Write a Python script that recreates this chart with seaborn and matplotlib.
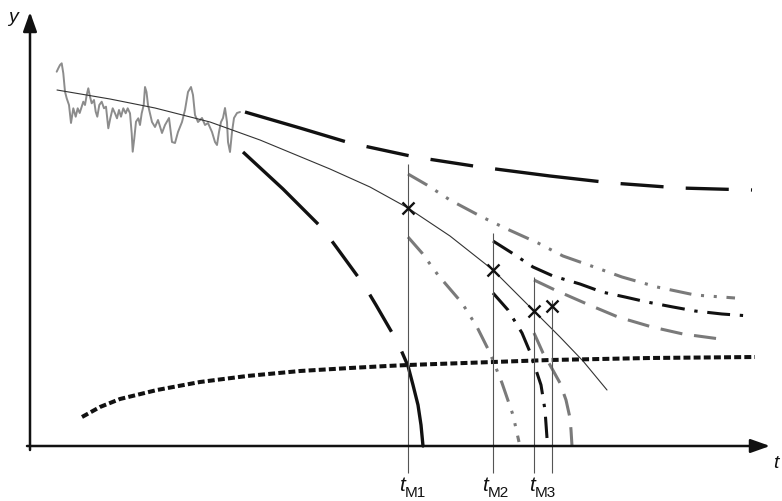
import numpy as np
import matplotlib
matplotlib.use("Agg")
import matplotlib.pyplot as plt
import seaborn as sns

# ---- data (time t, quantity y) ----
noise_t = [26.7, 28.3, 30, 31.7, 33.3, 35, 36.7, 39, 41, 43.3, 45.7, 47.7, 49.7, 51.7, 53.3, 55,
           56.7, 58.3, 60, 61.7, 64, 65.7, 67.3, 69.3, 71.7, 74, 76, 78.3, 80.3, 82.7, 85, 87, 89,
           91, 93.3, 95.7, 97.7, 100, 101.7, 102.7, 104.3, 106, 108.3, 110, 111.7, 113.7, 115,
           116.5, 118, 122, 125, 128, 132, 135, 139, 142, 145, 148, 152, 155, 158, 161, 163, 165,
           168, 172, 175, 178, 182, 185, 187, 189, 191, 193, 195, 197, 198, 200, 202, 204, 207, 210]
noise_y = [374.3, 377.7, 381, 382.7, 372.7, 354.3, 347.7, 341, 323, 337.7, 329.3, 337.7, 333, 339.3,
           344.3, 341, 351, 357.7, 349.3, 342.7, 346, 334.3, 329.3, 341, 344.3, 337.7, 339.3, 317.7,
           327.7, 337.7, 332.7, 327.7, 336, 329.3, 337.7, 332.7, 337.7, 332.7, 312.7, 294.3, 307.7,
           324.3, 327.7, 321, 332.7, 341, 359, 354, 341, 324, 319, 326, 313, 321, 328, 304, 303, 314,
           324, 336, 354, 359, 351, 331, 324, 328, 321, 323, 314, 304, 301, 314, 324, 328, 338, 324,
           304, 294, 314, 328, 333, 334]

trend_t = [27, 80, 125, 180, 230, 300, 340, 378, 420, 463, 504, 530, 553, 577]
trend_y = [356, 347, 338, 324, 306, 277, 259, 238, 210, 176, 135, 109, 85, 56]

upper_t = [215, 270, 320, 385, 450, 520, 582, 650, 722]
upper_y = [334, 318, 303, 289, 279, 270, 263, 258, 256]

fall_t = [213, 253, 293, 307, 334, 346, 368, 378, 383, 388, 391, 393]
fall_y = [294, 257, 217, 198, 161, 141, 103, 80, 61, 41, 21, 0]

limit_t = [52, 70, 90, 127, 170, 217, 270, 320, 357, 378, 463, 520, 620, 725]
limit_y = [29, 39, 47, 56, 64, 70, 75, 78, 80, 81, 84, 86, 88, 89]

m1_up_t = [378, 397, 420, 452, 477, 508, 533, 567, 592, 627, 665, 705]
m1_up_y = [272, 261, 246, 229, 217, 203, 190, 178, 169, 159, 151, 148]
m1_lo_t = [378, 392, 408, 432, 447, 460, 472, 483, 489]
m1_lo_y = [209, 193, 171, 143, 119, 93, 63, 31, 4]

m2_up_t = [463, 482, 503, 523, 550, 572, 595, 617, 643, 665, 692, 720]
m2_up_y = [205, 193, 179, 170, 162, 154, 149, 144, 139, 135, 132, 130]
m2_lo_t = [463, 478, 492, 500, 506, 511, 515, 517]
m2_lo_y = [153, 136, 113, 94, 76, 61, 36, 8]

m3_up_t = [504, 525, 557, 588, 622, 653, 690]
m3_up_y = [166, 156, 142, 129, 119, 112, 107]
m3_lo_t = [504, 513, 520, 530, 536, 540, 541, 542]
m3_lo_y = [113, 93, 81, 63, 46, 28, 16, 0]

# measurement instants, their marker heights and guide-line tops
t_meas = [378, 463, 504, 522]
y_meas = [238, 176, 135, 140]
guide_top = [282, 213, 169, 146]
guide_bottom = -27
meas_labels = ["M1", "M2", "M3"]
label_pos = [375, 458, 505]

# ---- styling ----
sns.set_theme(style="white")
plt.rcParams["font.family"] = ["Liberation Sans", "DejaVu Sans"]
plt.rcParams["lines.scale_dashes"] = False

BLACK = "#111111"
GREY = "#7a7a7a"

fig = plt.figure(figsize=(7.82, 5.01), dpi=100)
ax = fig.add_axes([0, 0, 1, 1])
ax.set_xlim(-30, 752)
ax.set_ylim(-55, 446)
ax.axis("off")


def curve(t, y, color, lw, dashes=None):
    sns.lineplot(x=t, y=y, ax=ax, color=color, lw=lw, sort=False,
                 estimator=None, legend=False)
    line = ax.lines[-1]
    if dashes is not None:
        line.set_dashes(dashes)
    line.set_dash_capstyle("butt")
    line.set_solid_joinstyle("round")
    return line


LONG_SHORT = [75, 16, 31, 16, 31, 16]
DASH_DOT_DOT = [16, 7, 2.2, 7, 2.2, 7]
DASH_DOT = [16.5, 7, 2.4, 7]
DASHED = [16, 8.5]
DOTTED = [5, 2.3]

# measured signal and its fitted trend
curve(noise_t, noise_y, "#8c8c8c", 1.4)
curve(trend_t, trend_y, "#333333", 0.8)

# long-term predictions
curve(upper_t, upper_y, BLACK, 2.4, LONG_SHORT)
ft = np.array(fall_t)
fy = np.array(fall_y)
pre = ft <= t_meas[0]
post = ft >= t_meas[0]
curve(ft[pre], fy[pre], BLACK, 2.4, LONG_SHORT)
curve(ft[post], fy[post], BLACK, 2.4)

# limit curve
curve(limit_t, limit_y, BLACK, 2.9, DOTTED)

# predictions issued at each measurement instant
curve(m1_up_t, m1_up_y, GREY, 2.2, DASH_DOT_DOT)
curve(m1_lo_t, m1_lo_y, GREY, 2.2, DASH_DOT_DOT)
curve(m2_up_t, m2_up_y, BLACK, 2.2, DASH_DOT)
curve(m2_lo_t, m2_lo_y, BLACK, 2.2, DASH_DOT)
curve(m3_up_t, m3_up_y, GREY, 2.2, DASHED)
curve(m3_lo_t, m3_lo_y, GREY, 2.2, DASHED)

# vertical guides at the measurement instants
for tm, top in zip(t_meas, guide_top):
    ax.vlines(tm, guide_bottom, top, color="#555555", lw=0.8)

sns.scatterplot(x=t_meas, y=y_meas, ax=ax, marker="x", s=75, color=BLACK,
                linewidth=1.7, zorder=5, legend=False)

# axes with arrow heads
arrow = dict(arrowstyle="-|>,head_length=0.9,head_width=0.32", color=BLACK,
             lw=1.8, mutation_scale=13, shrinkA=0, shrinkB=0)
ax.annotate("", xy=(740, 0), xytext=(-3, 0), arrowprops=arrow)
ax.annotate("", xy=(0, 434), xytext=(0, -4), arrowprops=arrow)
ax.text(-17, 424, "y", fontsize=14, style="italic", ha="center", va="baseline", color=BLACK)
ax.text(743, -22, "t", fontsize=14, style="italic", ha="left", va="baseline", color=BLACK)

for pos, lab in zip(label_pos, meas_labels):
    ax.text(pos, -45, "t", fontsize=15, style="italic", ha="right", va="baseline", color=BLACK)
    ax.text(pos, -51, lab, fontsize=11, ha="left", va="baseline", color=BLACK)

fig.savefig("out.png", dpi=100, facecolor="white")
